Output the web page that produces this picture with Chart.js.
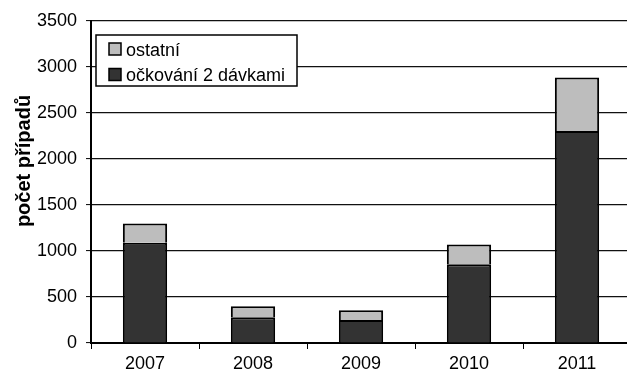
<!DOCTYPE html>
<html>
<head>
<meta charset="utf-8">
<script src="https://cdn.jsdelivr.net/npm/chart.js@4/dist/chart.umd.min.js"></script>
<style>
  html, body { margin: 0; padding: 0; background: #fff; overflow: hidden; }
  #wrap { width: 632px; height: 379px; position: relative; }
</style>
</head>
<body>
<div id="wrap"><canvas id="c"></canvas></div>
<script>
// Years on the category axis
const years = ['2007', '2008', '2009', '2010', '2011'];
// Cases in people vaccinated with two doses
const vaccinated2 = [1090, 280, 250, 855, 2305];
// Remaining cases
const others = [210, 120, 105, 215, 580];
// Value axis ticks
const yTicks = [0, 500, 1000, 1500, 2000, 2500, 3000, 3500];

const FONT = 'Arial, "Liberation Sans", sans-serif';

// Legend box drawn inside the plot, top-left, listing "ostatní" first
const boxLegend = {
  id: 'boxLegend',
  afterDraw(chart) {
    const ctx = chart.ctx;
    const ds = chart.data.datasets;
    const order = [1, 0];
    ctx.save();
    ctx.fillStyle = '#fff';
    ctx.fillRect(96, 35, 201, 51);
    ctx.strokeStyle = '#000';
    ctx.lineWidth = 1.5;
    ctx.strokeRect(96, 35, 201, 51);
    ctx.font = '18px ' + FONT;
    ctx.textBaseline = 'alphabetic';
    order.forEach((i, row) => {
      const y = 43 + row * 25.5;
      ctx.fillStyle = ds[i].backgroundColor;
      ctx.fillRect(109, y, 12, 12);
      ctx.lineWidth = 1.5;
      ctx.strokeStyle = '#000';
      ctx.strokeRect(109, y, 12, 12);
      ctx.fillStyle = '#000';
      ctx.fillText(ds[i].label, 126, y + 12.5);
    });
    ctx.restore();
  }
};

// Rotated bold title of the value axis
const yTitle = {
  id: 'yTitle',
  afterDraw(chart) {
    const ctx = chart.ctx;
    ctx.save();
    ctx.translate(24, 161);
    ctx.rotate(-Math.PI / 2);
    ctx.font = 'bold 20px ' + FONT;
    ctx.fillStyle = '#000';
    ctx.textAlign = 'center';
    ctx.textBaseline = 'middle';
    ctx.fillText('počet případů', 0, 0);
    ctx.restore();
  }
};

new Chart(document.getElementById('c'), {
  type: 'bar',
  data: {
    labels: years,
    datasets: [
      {
        label: 'očkování 2 dávkami',
        data: vaccinated2,
        backgroundColor: '#333333',
        borderColor: '#000',
        borderWidth: 2,
        categoryPercentage: 1,
        barPercentage: 0.41
      },
      {
        label: 'ostatní',
        data: others,
        backgroundColor: '#bdbdbd',
        borderColor: '#000',
        borderWidth: 2,
        categoryPercentage: 1,
        barPercentage: 0.41
      }
    ]
  },
  options: {
    responsive: true,
    maintainAspectRatio: false,
    animation: false,
    layout: { padding: { top: 21, right: 1, left: 0, bottom: 0 } },
    plugins: {
      legend: { display: false },
      tooltip: { enabled: false }
    },
    scales: {
      x: {
        stacked: true,
        afterFit(scale) { scale.height = 36; },
        border: { display: true, color: '#000', width: 2 },
        grid: {
          display: true,
          offset: true,
          drawOnChartArea: false,
          drawTicks: true,
          tickLength: 6,
          tickColor: '#000',
          tickWidth: 1
        },
        ticks: {
          color: '#000',
          padding: 4,
          font: { family: FONT, size: 18 }
        }
      },
      y: {
        stacked: true,
        min: 0,
        max: 3500,
        afterFit(scale) { scale.width = 91; },
        afterBuildTicks(scale) { scale.ticks = yTicks.map(v => ({ value: v })); },
        border: { display: true, color: '#000', width: 2 },
        grid: {
          color: '#111',
          lineWidth: 1.2,
          drawTicks: true,
          tickLength: 5,
          tickColor: '#000',
          tickWidth: 1
        },
        ticks: {
          color: '#000',
          padding: 9,
          font: { family: FONT, size: 18 },
          callback: (v) => String(v)
        }
      }
    }
  },
  plugins: [boxLegend, yTitle]
});
</script>
</body>
</html>
